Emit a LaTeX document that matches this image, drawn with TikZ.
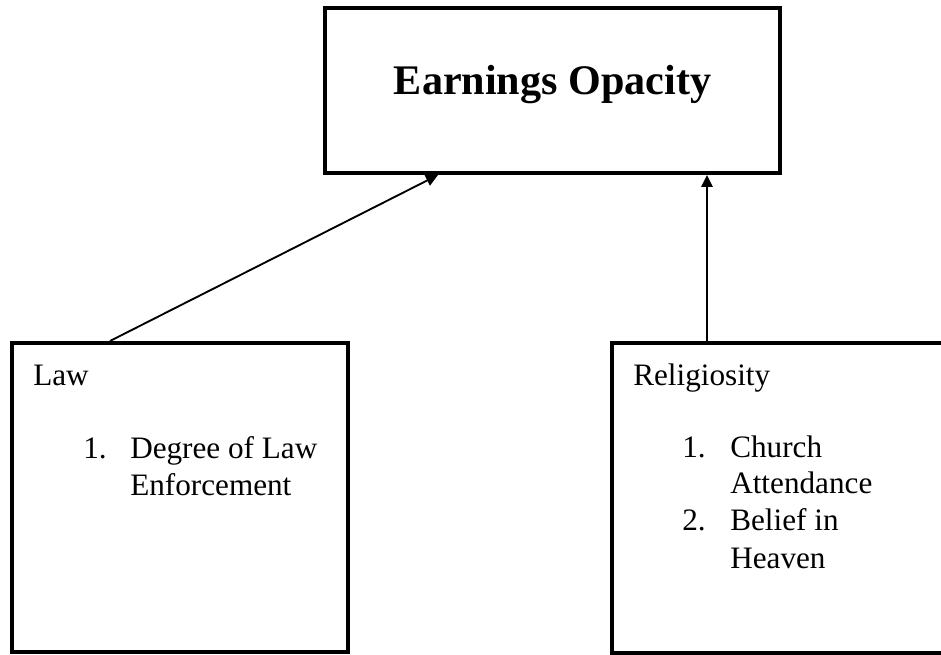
\documentclass[tikz,border=0pt]{standalone}
\usepackage{fontspec}
\setmainfont{Liberation Serif}
\usetikzlibrary{arrows.meta,calc,fit}

\tikzset{
  box/.style={draw=black, line width=3pt, inner sep=0pt, fill=white},
  conn/.style={draw=black, line width=1.4pt, -{Triangle[length=9pt,width=8.5pt]}},
  txt/.style={anchor=base west, inner sep=0pt, font=\fontsize{23.4pt}{27.75pt}\selectfont},
  ttl/.style={anchor=base, inner sep=0pt, font=\fontsize{31.6pt}{36pt}\selectfont\bfseries}
}

\begin{document}
\begin{tikzpicture}[x=0.75pt, y=-0.75pt]
  \useasboundingbox (0,0) rectangle (941,655);
  \clip (0,0) rectangle (941,655);

  % boxes
  \node[box, fit={(325,8) (780,173)}] (eo) {};
  \node[box, fit={(12,343) (348,652)}] (law) {};
  \node[box, fit={(612,343) (950,653)}] (rel) {};

  % title
  \node[ttl] (eotitle) at (552.5,95) {Earnings Opacity};

  % law box contents
  \node[txt] (lawhead) at (33,385) {Law};
  \node[txt] (lawn1) at (83,458) {1.};
  \node[txt] (lawi1a) at (130,458) {Degree of Law};
  \node[txt] (lawi1b) at (130,495) {Enforcement};

  % religiosity box contents
  \node[txt] (relhead) at (633,385) {Religiosity};
  \node[txt] (reln1) at (682,457) {1.};
  \node[txt] (reli1a) at (730,457) {Church};
  \node[txt] (reli1b) at (730,493) {Attendance};
  \node[txt] (reln2) at (682,530) {2.};
  \node[txt] (reli2a) at (730,530) {Belief in};
  \node[txt] (reli2b) at (730,568) {Heaven};

  % connectors
  \coordinate (lawtop) at ($(law.north west)+(100,0)$);
  \coordinate (eoleft) at ($(eo.south west)+(115,0)$);
  \draw[conn] (lawtop) -- (eoleft);
  \coordinate (reltop) at ($(rel.north west)+(97,0)$);
  \draw[conn] (reltop) -- (reltop |- eo.south);
\end{tikzpicture}
\end{document}
